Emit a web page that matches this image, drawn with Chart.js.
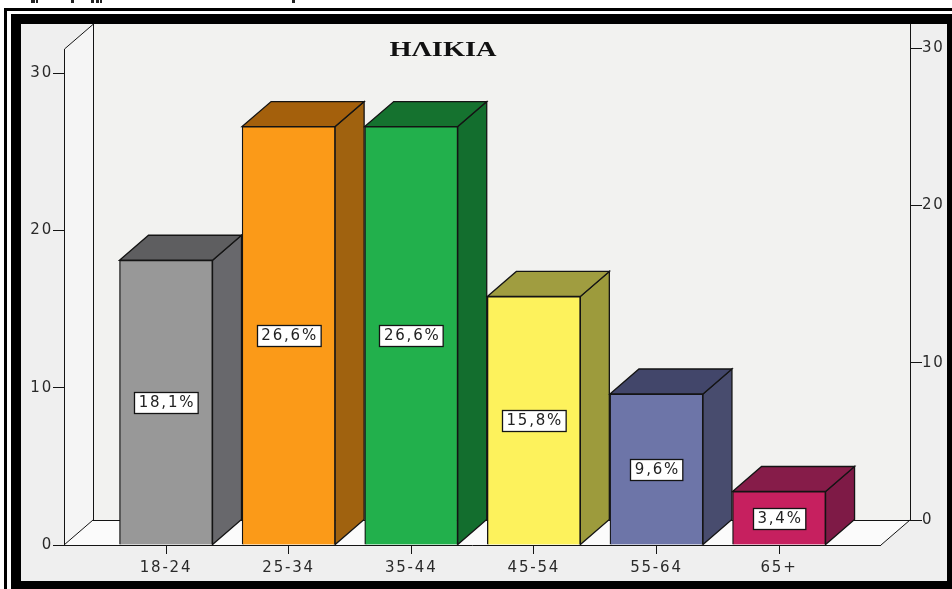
<!DOCTYPE html>
<html><head><meta charset="utf-8">
<style>html,body{margin:0;padding:0;background:#fff;overflow:hidden}
#w{position:relative;width:952px;height:589px}
canvas{display:block;filter:blur(0.45px)}
</style>
<script src="https://cdn.jsdelivr.net/npm/chart.js@4/dist/chart.umd.min.js"></script>
</head><body><div id="w"><canvas id="c" width="952" height="589"></canvas></div>
<script>
const categories = ['18-24','25-34','35-44','45-54','55-64','65+'];
const values = [18.1,26.6,26.6,15.8,9.6,3.4];
const frontColors = ['#989898','#fb9a18','#22b04c','#fdf25c','#6d75a8','#c6205f'];
const sideColors = ['#68686c','#a0620f','#136e2e','#9d9b3c','#484c6e','#7e1a46'];
const topColors = ['#5e5e60','#a4600c','#15722f','#a09d40','#42466a','#861c49'];
const leftTicks = [0,10,20,30];
const rightTicks = [0,10,20,30];
const titleText = 'ΗΛΙΚΙΑ';
const DX = 29, DY = 25, INK = '#141414', FONT = '"DejaVu Sans"';

function poly(ctx, pts, fill){
  ctx.beginPath();
  pts.forEach((p,i)=> i ? ctx.lineTo(p[0],p[1]) : ctx.moveTo(p[0],p[1]));
  ctx.closePath();
  if(fill){ctx.fillStyle=fill;ctx.fill();}
  ctx.strokeStyle=INK;ctx.lineWidth=1.3;ctx.stroke();
}
function line(ctx,x1,y1,x2,y2){ctx.beginPath();ctx.moveTo(x1,y1);ctx.lineTo(x2,y2);ctx.stroke();}

const scene = {
  id:'scene',
  beforeDraw(chart){
    const ctx=chart.ctx;
    ctx.letterSpacing='1.8px';
    const L=chart.scales.x.getPixelForValue(-0.832), y0=chart.scales.y.getPixelForValue(0), top=chart.scales.y.getPixelForValue(31.53);
    const R=L+817;
    ctx.save();
    ctx.fillStyle='#fff';ctx.fillRect(0,0,952,589);
    ctx.fillStyle='#000';
    ctx.fillRect(4,8,948,581);
    ctx.fillStyle='#fff';ctx.fillRect(7,11,945,578);
    ctx.fillStyle='#000';ctx.fillRect(11,14,941,575);
    ctx.fillStyle='#efefef';ctx.fillRect(21,24,926,557);
    // stray cropped caption fragments along the top edge
    ctx.fillStyle='#222';
    [[31,4],[36,2],[71,3],[91,3],[96,3],[100,2],[292,3]].forEach(f=>ctx.fillRect(f[0],0,f[1],3));
    // back wall, side wall, floor
    ctx.fillStyle='#f2f2f0';ctx.fillRect(L+DX,top-DY,R-L,y0-top);
    ctx.fillStyle='#f5f5f5';ctx.beginPath();ctx.moveTo(L,top);ctx.lineTo(L+DX,top-DY);ctx.lineTo(L+DX,y0-DY);ctx.lineTo(L,y0);ctx.closePath();ctx.fill();
    ctx.fillStyle='#fbfbfb';ctx.beginPath();ctx.moveTo(L,y0);ctx.lineTo(L+DX,y0-DY);ctx.lineTo(R+DX,y0-DY);ctx.lineTo(R,y0);ctx.closePath();ctx.fill();
    ctx.strokeStyle=INK;ctx.lineWidth=1;
    line(ctx,L+.5,top,L+DX+.5,top-DY);
    line(ctx,L+DX+.5,top-DY,L+DX+.5,y0-DY);
    line(ctx,L,y0,L+DX,y0-DY);
    line(ctx,L+DX,y0-DY+.5,R+DX,y0-DY+.5);
    line(ctx,R+DX+.5,top-DY,R+DX+.5,y0-DY);
    line(ctx,R,y0,R+DX,y0-DY);
    line(ctx,L,y0+.5,R,y0+.5);
    ctx.restore();
  },
  beforeDatasetsDraw(chart){
    const ctx=chart.ctx;
    ctx.save();
    chart.getDatasetMeta(0).data.forEach((b,i)=>{
      const l=b.x-b.width/2,r=b.x+b.width/2,t=b.y,bt=b.base;
      poly(ctx,[[r,t],[r+DX,t-DY],[r+DX,bt-DY],[r,bt]],sideColors[i]);
      poly(ctx,[[l,t],[l+DX,t-DY],[r+DX,t-DY],[r,t]],topColors[i]);
    });
    ctx.restore();
  },
  afterDatasetsDraw(chart){
    const ctx=chart.ctx;
    ctx.save();
    ctx.font='15px '+FONT;ctx.textAlign='center';ctx.textBaseline='middle';
    chart.getDatasetMeta(0).data.forEach((b,i)=>{
      const txt=values[i].toFixed(1).replace('.',',')+'%';
      const w=ctx.measureText(txt).width+7,h=21,cy=(b.y+b.base)/2;
      const x=Math.round(b.x-w/2)+.5,y=Math.round(cy-h/2)+.5;
      ctx.fillStyle='#fff';ctx.fillRect(x,y,w,h);
      ctx.strokeStyle=INK;ctx.lineWidth=1.3;ctx.strokeRect(x,y,w,h);
      ctx.fillStyle='#222';ctx.fillText(txt,b.x+1,cy+1);
    });
    // title
    ctx.translate(443,51);ctx.scale(1.42,1);
    ctx.letterSpacing='0px';
    ctx.font='bold 20px "Liberation Serif"';ctx.fillStyle='#111';
    ctx.fillText(titleText,0,0);
    ctx.restore();
  }
};

new Chart(document.getElementById('c'),{
  type:'bar',
  data:{datasets:[{
    data:values.map((v,i)=>({x:i,y:v})),
    backgroundColor:frontColors,
    borderColor:INK,borderWidth:1.3,
    barThickness:93,
    yAxisID:'y'
  }]},
  options:{
    responsive:false,animation:false,
    layout:{padding:{top:49,left:0,right:0,bottom:0}},
    plugins:{legend:{display:false},tooltip:{enabled:false},title:{display:false}},
    scales:{
      x:{
        type:'linear',min:-0.832,max:6.068,offset:false,
        afterBuildTicks(s){s.ticks=categories.map((_,i)=>({value:i}));},
        afterFit(s){s.height=44;},
        grid:{offset:false,drawOnChartArea:false,drawTicks:true,tickLength:9,color:INK},
        border:{display:false},
        ticks:{autoSkip:false,maxRotation:0,padding:5,color:'#2a2a2a',font:{family:'DejaVu Sans',size:15},callback:v=>categories[v]}
      },
      y:{
        position:'left',min:0,max:31.53,
        afterBuildTicks(s){s.ticks=leftTicks.map(v=>({value:v}));},
        afterFit(s){s.width=64;},
        grid:{drawOnChartArea:false,tickLength:11,color:INK},
        border:{color:INK},
        ticks:{padding:0,color:'#2a2a2a',font:{family:'DejaVu Sans',size:15}}
      },
      yRight:{
        position:'right',min:-1.589,max:29.94,
        afterBuildTicks(s){s.ticks=rightTicks.map(v=>({value:v}));},
        afterFit(s){s.width=42;},
        grid:{drawOnChartArea:false,tickLength:12,color:INK},
        border:{display:false},
        ticks:{padding:0,color:'#2a2a2a',font:{family:'DejaVu Sans',size:15}}
      }
    }
  },
  plugins:[scene]
});
</script></body></html>
